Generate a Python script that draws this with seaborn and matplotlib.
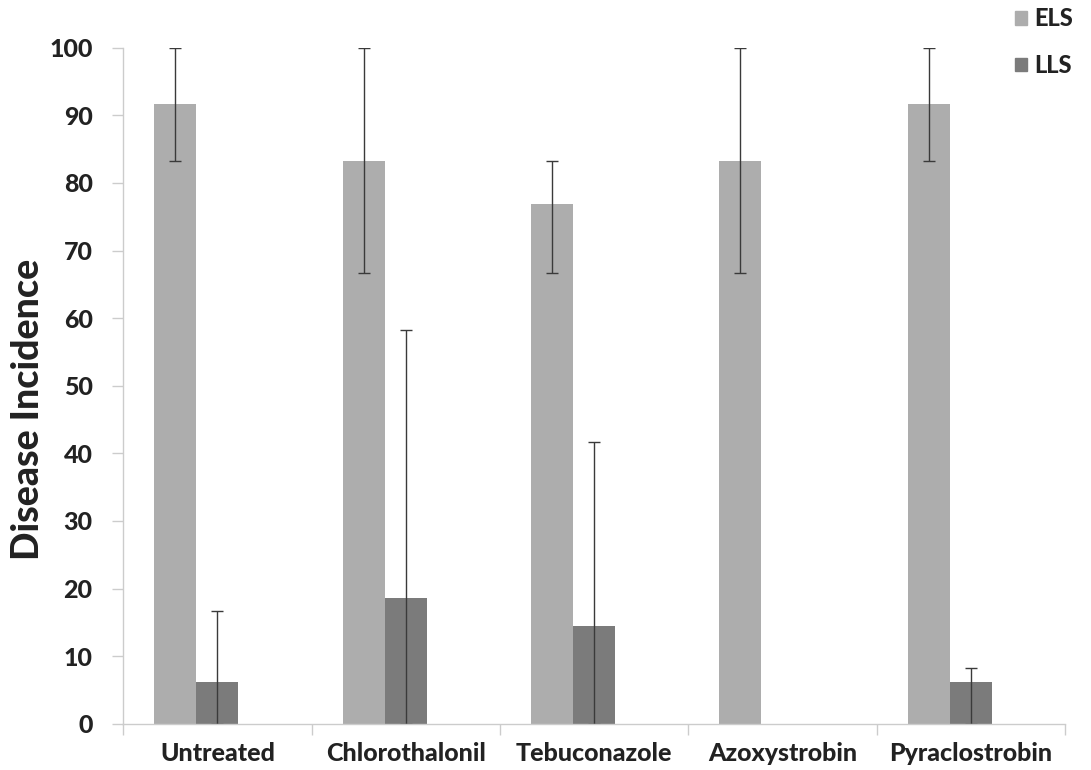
import numpy as np
import pandas as pd
import matplotlib
matplotlib.use("Agg")
import matplotlib.pyplot as plt
import seaborn as sns

# data
treatments = ["Untreated", "Chlorothalonil", "Tebuconazole", "Azoxystrobin", "Pyraclostrobin"]
els_mean = [91.7, 83.3, 76.9, 83.3, 91.7]
els_low = [83.3, 66.7, 66.7, 66.7, 83.3]
els_high = [100.0, 100.0, 83.3, 100.0, 100.0]
lls_mean = [6.2, 18.6, 14.5, 0.0, 6.2]
lls_low = [0.0, 0.0, 0.0, np.nan, 0.0]
lls_high = [16.7, 58.3, 41.7, np.nan, 8.3]

series = ["ELS", "LLS", " "]  # third, empty series keeps the Excel-like spacing
colors = {"ELS": "#adadad", "LLS": "#7b7b7b", " ": "#ffffff"}

rows = []
for i, t in enumerate(treatments):
    rows.append({"treatment": t, "series": "ELS", "value": els_mean[i]})
    rows.append({"treatment": t, "series": "LLS", "value": lls_mean[i]})
    rows.append({"treatment": t, "series": " ", "value": 0.0})
df = pd.DataFrame(rows)

sns.set_theme(style="white")
plt.rcParams["font.family"] = ["Lato", "DejaVu Sans"]
W = "black"

fig, ax = plt.subplots(figsize=(10.91, 7.70), dpi=100)
fig.subplots_adjust(left=0.113, right=0.976, top=0.938, bottom=0.06)

sns.barplot(data=df, x="treatment", y="value", hue="series", hue_order=series,
            palette=colors, width=0.67, ax=ax, legend=False, linewidth=0,
            saturation=1)

# error bars at the bar centres (bars come out grouped by hue)
n = len(treatments)
els_x = [p.get_x() + p.get_width() / 2 for p in ax.patches[:n]]
lls_x = [p.get_x() + p.get_width() / 2 for p in ax.patches[n:2 * n]]
for xs, m, lo, hi in [(els_x, els_mean, els_low, els_high),
                      (lls_x, lls_mean, lls_low, lls_high)]:
    for x, v, l, h in zip(xs, m, lo, hi):
        if np.isnan(h):
            continue
        ax.errorbar(x, v, yerr=[[v - l], [h - v]], fmt="none",
                    ecolor="#3a3a3a", elinewidth=1.0, capsize=4, capthick=1.0)

ax.set_ylim(0, 100)
ax.set_xlim(-0.5, n - 0.5)
ax.set_yticks(range(0, 101, 10))
ax.set_xticks(np.arange(n))
ax.set_xticklabels(treatments, fontsize=18, fontweight=W, color="#222222")
ax.set_xticks(np.arange(n + 1) - 0.5, minor=True)
ax.tick_params(axis="y", labelsize=18, colors="#cccccc", labelcolor="#222222",
               length=8, width=1, direction="out", left=True, pad=14)
for lab in ax.get_yticklabels():
    lab.set_fontweight(W)
ax.tick_params(axis="x", which="major", length=0, pad=13)
ax.tick_params(axis="x", which="minor", length=8, width=1, color="#cccccc",
               direction="out", bottom=True)

ax.set_xlabel("")
ax.set_ylabel("Disease Incidence", fontsize=27, fontweight=W, color="#222222")
ax.yaxis.set_label_coords(-0.083, 0.465)

for side in ["top", "right"]:
    ax.spines[side].set_visible(False)
for side in ["left", "bottom"]:
    ax.spines[side].set_color("#cccccc")
    ax.spines[side].set_linewidth(1)

# legend in the top right corner, outside the axes
handles = [plt.Rectangle((0, 0), 1, 1, color=colors[s]) for s in ["ELS", "LLS"]]
leg = fig.legend(handles, ["ELS", "LLS"], loc="upper right",
                 bbox_to_anchor=(1.003, 1.018), frameon=False,
                 prop={"size": 17, "weight": W}, handlelength=0.5,
                 handleheight=0.5, handletextpad=0.3, labelspacing=1.0)
for t in leg.get_texts():
    t.set_color("#222222")

fig.savefig("out.png", dpi=100)
